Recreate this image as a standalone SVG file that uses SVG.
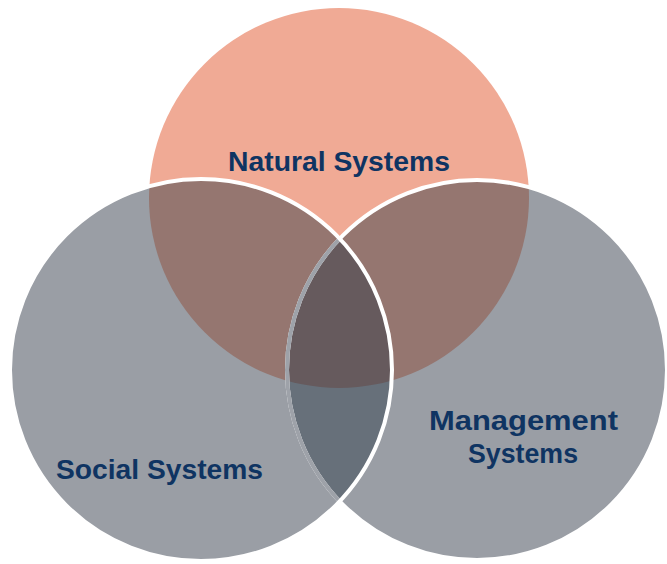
<svg xmlns="http://www.w3.org/2000/svg" width="667" height="564" viewBox="0 0 667 564">
  <style>
    .lbl { font-family: "Liberation Sans", Arial, sans-serif; font-weight: bold; font-size: 28px; fill: #0F3462; }
    .wstroke { fill: none; stroke: #FFFFFF; stroke-width: 4; }
  </style>
  <defs>
    <clipPath id="cTop"><circle cx="339" cy="198" r="190"/></clipPath>
    <clipPath id="cLeft"><circle cx="201" cy="370" r="191"/></clipPath>
    <clipPath id="cRight"><circle cx="477" cy="370" r="190"/></clipPath>
  </defs>
  <rect width="667" height="564" fill="#FFFFFF"/>

  <g id="natural-systems">
    <circle cx="339" cy="198" r="190" fill="#F0AA95"/>
  </g>
  <g id="management-systems">
    <circle cx="477" cy="370" r="190" fill="#9A9EA5"/>
  </g>
  <g id="social-systems">
    <circle cx="201" cy="370" r="191" fill="#9A9EA5"/>
  </g>

  <g id="overlaps">
    <circle cx="339" cy="198" r="190" fill="#957670" clip-path="url(#cLeft)"/>
    <circle cx="339" cy="198" r="190" fill="#957670" clip-path="url(#cRight)"/>
    <circle cx="477" cy="370" r="190" fill="#67707A" clip-path="url(#cLeft)"/>
    <g clip-path="url(#cLeft)">
      <circle cx="339" cy="198" r="190" fill="#665A5D" clip-path="url(#cRight)"/>
    </g>
  </g>

  <g id="outlines">
    <circle class="wstroke" cx="477" cy="370" r="190"/>
    <circle cx="477" cy="370" r="190" fill="none" stroke="#9EA2A9" stroke-width="4" clip-path="url(#cLeft)"/>
    <circle class="wstroke" cx="201" cy="370" r="191"/>
  </g>

  <g id="labels">
    <text class="lbl" x="339" y="171" text-anchor="middle" textLength="222" lengthAdjust="spacingAndGlyphs">Natural Systems</text>
    <text class="lbl" x="56" y="479" textLength="207" lengthAdjust="spacingAndGlyphs">Social Systems</text>
    <text class="lbl" x="523.5" y="430" text-anchor="middle" textLength="189" lengthAdjust="spacingAndGlyphs">Management</text>
    <text class="lbl" x="523" y="463" text-anchor="middle" textLength="110" lengthAdjust="spacingAndGlyphs">Systems</text>
  </g>
</svg>
